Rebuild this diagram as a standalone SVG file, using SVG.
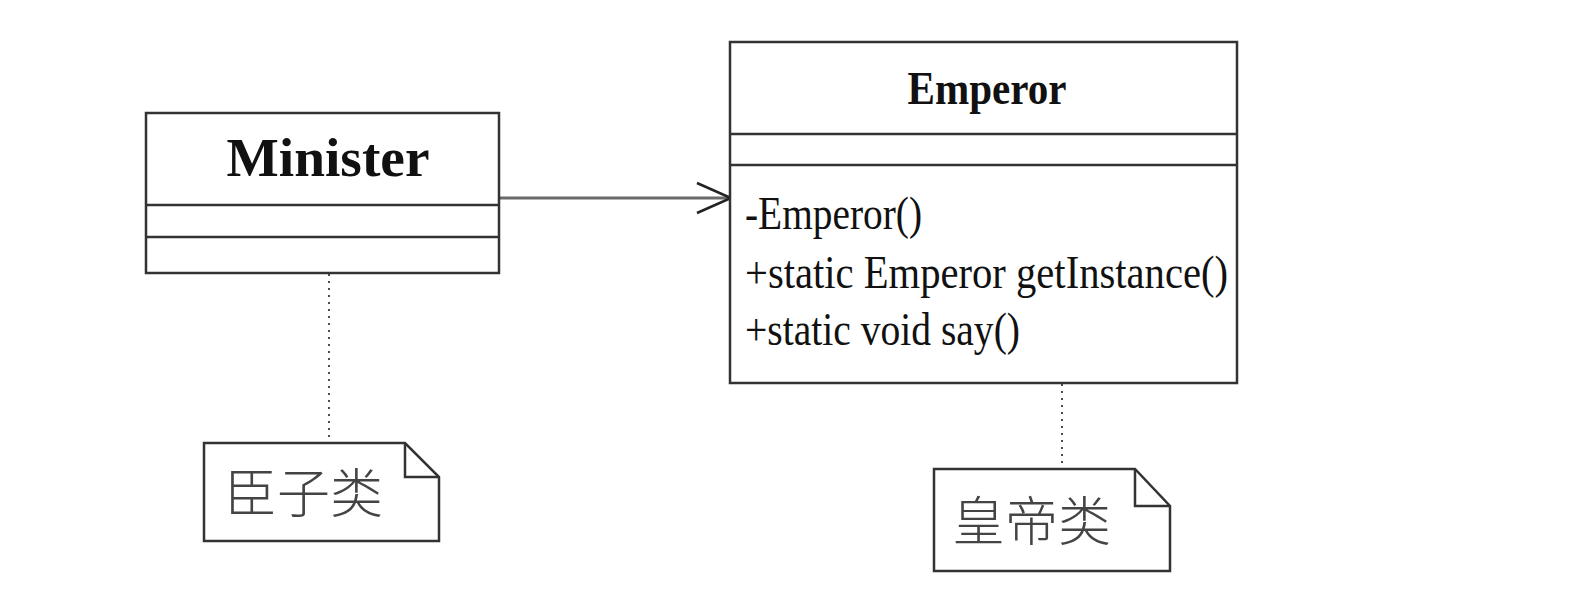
<svg xmlns="http://www.w3.org/2000/svg" width="1588" height="604" viewBox="0 0 1588 604">
  <style>
    .box { fill: #ffffff; stroke: #333333; stroke-width: 2.5; }
    .div { stroke: #333333; stroke-width: 2.5; fill: none; }
    .title { font-family: "Liberation Serif", "Times New Roman", serif; font-weight: bold; fill: #111111; text-anchor: middle; }
    .member { font-family: "Liberation Serif", "Times New Roman", serif; font-size: 47px; fill: #111111; }
    .note { fill: #ffffff; stroke: #333333; stroke-width: 2.5; stroke-linejoin: miter; }
    .fold { fill: none; stroke: #333333; stroke-width: 2.5; }
    .notetext { font-family: "Noto Sans CJK SC", "Noto Sans CJK JP", sans-serif; font-size: 53px; font-weight: 300; fill: #444444; }
    .assoc { stroke: #6a6a6a; stroke-width: 3; fill: none; }
    .anchor { stroke: #222222; stroke-width: 1.6; stroke-dasharray: 2 5; fill: none; }
  </style>
  <rect x="0" y="0" width="1588" height="604" fill="#ffffff"/>

  <g id="connectors">
    <line class="assoc" x1="499" y1="198" x2="729" y2="198"/>
    <polyline points="697,183 731,198 697,213" fill="none" stroke="#222222" stroke-width="2.5"/>
    <line class="anchor" x1="329" y1="274" x2="329" y2="443"/>
    <line class="anchor" x1="1062" y1="384" x2="1062" y2="469"/>
  </g>

  <g id="minister">
    <rect class="box" x="146" y="113" width="353" height="160"/>
    <line class="div" x1="146" y1="205" x2="499" y2="205"/>
    <line class="div" x1="146" y1="237" x2="499" y2="237"/>
    <text class="title" x="328" y="176" font-size="54" textLength="203" lengthAdjust="spacingAndGlyphs">Minister</text>
  </g>

  <g id="emperor">
    <rect class="box" x="730" y="42" width="507" height="341"/>
    <line class="div" x1="730" y1="134" x2="1237" y2="134"/>
    <line class="div" x1="730" y1="165" x2="1237" y2="165"/>
    <text class="title" x="987" y="104" font-size="47" textLength="159" lengthAdjust="spacingAndGlyphs">Emperor</text>
    <text class="member" x="745" y="229" textLength="177" lengthAdjust="spacingAndGlyphs">-Emperor()</text>
    <text class="member" x="745" y="288" textLength="483" lengthAdjust="spacingAndGlyphs">+static Emperor getInstance()</text>
    <text class="member" x="745" y="345" textLength="275" lengthAdjust="spacingAndGlyphs">+static void say()</text>
  </g>

  <g id="note-minister">
    <path class="note" d="M204,443 H405 L439,477 V541 H204 Z"/>
    <path class="fold" d="M405,443 V477 H439"/>
    <text class="notetext" x="224" y="513">臣子类</text>
  </g>

  <g id="note-emperor">
    <path class="note" d="M934,469 H1135 L1170,506 V571 H934 Z"/>
    <path class="fold" d="M1135,469 V506 H1170"/>
    <text class="notetext" x="952" y="541">皇帝类</text>
  </g>
</svg>
